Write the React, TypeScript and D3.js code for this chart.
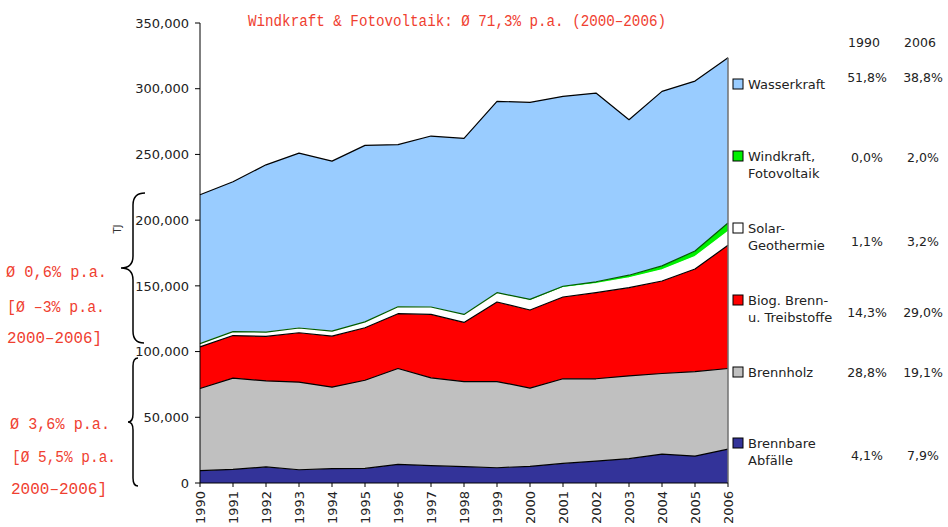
import React from "react";
import * as d3 from "d3";

const years = [1990, 1991, 1992, 1993, 1994, 1995, 1996, 1997, 1998, 1999, 2000, 2001, 2002, 2003, 2004, 2005, 2006];
// TJ values
const abfaelle = [9400, 10400, 12200, 10100, 10900, 11100, 14200, 13200, 12400, 11600, 12700, 14900, 16700, 18500, 22000, 20500, 25800];
const brennholz = [62500, 69400, 65500, 66600, 62000, 67100, 72900, 66800, 64800, 65600, 59500, 64400, 62600, 63000, 61300, 64300, 61300];
const biogen = [31700, 32400, 33800, 37600, 38800, 39900, 41700, 48300, 45000, 60500, 59400, 62200, 65500, 67100, 70400, 78000, 93800];
const solar = [2400, 2900, 3200, 3500, 3600, 4200, 5000, 5300, 5800, 6600, 7300, 7200, 7000, 7500, 8500, 9500, 10400];
const wind = [50, 100, 100, 150, 200, 300, 300, 300, 300, 500, 800, 1000, 1300, 2000, 3000, 4200, 6500];
const wasser = [113250, 114000, 127300, 133050, 129400, 134300, 123300, 130100, 133900, 145600, 149900, 144500, 143600, 118300, 132800, 129300, 125800];

const seriesKeys = ["abfaelle", "brennholz", "biogen", "solar", "wind", "wasser"];
const seriesColors = ["#333399", "#C0C0C0", "#FF0000", "#FFFFFF", "#00F000", "#99CCFF"];
const seriesLineColors = ["#000000", "#000000", "#000000", "#FFFFFF", "#005a00", "#000000"];

const yTicks = [0, 50000, 100000, 150000, 200000, 250000, 300000, 350000];

// legend (top to bottom)
const legendLabels = [["Wasserkraft"], ["Windkraft,", "Fotovoltaik"], ["Solar-", "Geothermie"], ["Biog. Brenn-", "u. Treibstoffe"], ["Brennholz"], ["Brennbare", "Abfälle"]];
const legendColors = ["#99CCFF", "#00F000", "#FFFFFF", "#FF0000", "#C0C0C0", "#333399"];
const pctHeaders = ["1990", "2006"];
const pct1990 = ["51,8%", "0,0%", "1,1%", "14,3%", "28,8%", "4,1%"];
const pct2006 = ["38,8%", "2,0%", "3,2%", "29,0%", "19,1%", "7,9%"];

const titleText = "Windkraft & Fotovoltaik: Ø 71,3% p.a. (2000–2006)";
const upperNote = ["Ø 0,6% p.a.", "[Ø –3% p.a.", "2000–2006]"];
const lowerNote = ["Ø 3,6% p.a.", "[Ø 5,5% p.a.", "2000–2006]"];
const unitLabel = "TJ";

export default function App() {
  const W = 948, H = 527;
  const left = 200, right = 728, top = 23, bottom = 483;
  const x = d3.scaleLinear().domain([1990, 2006]).range([left, right]);
  const y = d3.scaleLinear().domain([0, 350000]).range([bottom, top]);

  const table = years.map((yr, i) => ({
    year: yr,
    abfaelle: abfaelle[i],
    brennholz: brennholz[i],
    biogen: biogen[i],
    solar: solar[i],
    wind: wind[i],
    wasser: wasser[i],
  }));
  const stack = d3.stack<any>().keys(seriesKeys);
  const layers = stack(table);
  const area = d3.area<any>().x((d) => x(d.data.year)).y0((d) => y(d[0])).y1((d) => y(d[1]));
  const topLine = d3.line<any>().x((d) => x(d.data.year)).y((d) => y(d[1]));

  const axisFont = "'DejaVu Sans', Verdana, sans-serif";
  const monoFont = "'Liberation Mono', 'Courier New', monospace";
  const red = "#EF4030";

  const legendSquareY = [79, 151, 223, 295, 367, 438];
  const pctY = [77.5, 157, 241, 312, 372, 455];
  const lineGap = 17;
  const lastTotal = layers[layers.length - 1][years.length - 1][1];

  const upperBase = [276.5, 311.8, 342.5];
  const upperX = [6, 7, 7];
  const upperLen = [101, 98, 95];
  const lowerBase = [428.5, 461.8, 494];
  const lowerX = [10, 12, 11];
  const lowerLen = [100, 104, 96];

  return (
    <svg width={W} height={H} style={{ position: "absolute", left: 0, top: 0, background: "#fff" }}>
      {/* areas */}
      {layers.map((layer, i) => (
        <path key={"a" + i} d={area(layer) || ""} fill={seriesColors[i]} stroke="none" />
      ))}
      {layers.map((layer, i) => (
        <path key={"l" + i} d={topLine(layer) || ""} fill="none" stroke={seriesLineColors[i]} strokeWidth={1.2} strokeLinejoin="round" />
      ))}
      <line x1={right} x2={right} y1={y(lastTotal)} y2={bottom} stroke="#707070" strokeWidth={1.5} />

      {/* axes */}
      <line x1={left} x2={left} y1={top} y2={bottom} stroke="#000" strokeWidth={1} />
      <line x1={left} x2={right} y1={bottom} y2={bottom} stroke="#000" strokeWidth={1} />
      {yTicks.map((t) => (
        <g key={"yt" + t}>
          <line x1={left - 5} x2={left} y1={y(t)} y2={y(t)} stroke="#000" />
          <text x={left - 11} y={y(t)} dy="0.36em" textAnchor="end" fontFamily={axisFont} fontSize={13} fill="#222">
            {d3.format(",")(t)}
          </text>
        </g>
      ))}
      {years.map((yr) => (
        <g key={"xt" + yr}>
          <line x1={x(yr)} x2={x(yr)} y1={bottom} y2={bottom + 4} stroke="#000" />
          <text
            transform={`translate(${x(yr)},${bottom + 8}) rotate(-90)`}
            dy="0.36em"
            textAnchor="end"
            fontFamily={axisFont}
            fontSize={13}
            fill="#222"
          >
            {yr}
          </text>
        </g>
      ))}
      <text transform="translate(117,229) rotate(-90)" textAnchor="middle" dy="0.35em" fontFamily={axisFont} fontSize={10} fill="#333">
        {unitLabel}
      </text>

      {/* legend */}
      {legendLabels.map((lines, i) => {
        const sy = legendSquareY[i];
        const cy = sy + 5;
        return (
          <g key={"lg" + i}>
            <rect x={733} y={sy} width={10} height={10} fill={legendColors[i]} stroke="#000" strokeWidth={1} />
            {lines.map((ln, j) => (
              <text key={j} x={748} y={cy + j * lineGap} dy="0.36em" fontFamily={axisFont} fontSize={13} fill="#222">
                {ln}
              </text>
            ))}
          </g>
        );
      })}
      {pctHeaders.map((h, i) => (
        <text key={"ph" + i} x={i === 0 ? 864 : 920} y={42} dy="0.36em" textAnchor="middle" fontFamily={axisFont} fontSize={12.5} fill="#222">
          {h}
        </text>
      ))}
      {pct1990.map((p, i) => (
        <g key={"pc" + i}>
          <text x={867} y={pctY[i]} dy="0.36em" textAnchor="middle" fontFamily={axisFont} fontSize={12.5} fill="#222">
            {p}
          </text>
          <text x={923} y={pctY[i]} dy="0.36em" textAnchor="middle" fontFamily={axisFont} fontSize={12.5} fill="#222">
            {pct2006[i]}
          </text>
        </g>
      ))}

      {/* title */}
      <text x={248} y={26} fontFamily={monoFont} fontSize={16} fill={red} textLength={418} lengthAdjust="spacingAndGlyphs">
        {titleText}
      </text>

      {/* braces */}
      <path d="M145,193 Q133,193 133,205 L133,256 Q133,268 121,268 Q133,268 133,280 L133,331 Q133,343 144,343" fill="none" stroke="#000" strokeWidth={1.5} />
      <path d="M138,358 Q133,358 133,366 L133,414 Q133,422 128,422 Q133,422 133,430 L133,478 Q133,486 138,486" fill="none" stroke="#000" strokeWidth={1.5} />

      {upperNote.map((t, i) => (
        <text key={"un" + i} x={upperX[i]} y={upperBase[i]} fontFamily={monoFont} fontSize={16} fill={red} textLength={upperLen[i]} lengthAdjust="spacingAndGlyphs">
          {t}
        </text>
      ))}
      {lowerNote.map((t, i) => (
        <text key={"ln" + i} x={lowerX[i]} y={lowerBase[i]} fontFamily={monoFont} fontSize={16} fill={red} textLength={lowerLen[i]} lengthAdjust="spacingAndGlyphs">
          {t}
        </text>
      ))}
    </svg>
  );
}
